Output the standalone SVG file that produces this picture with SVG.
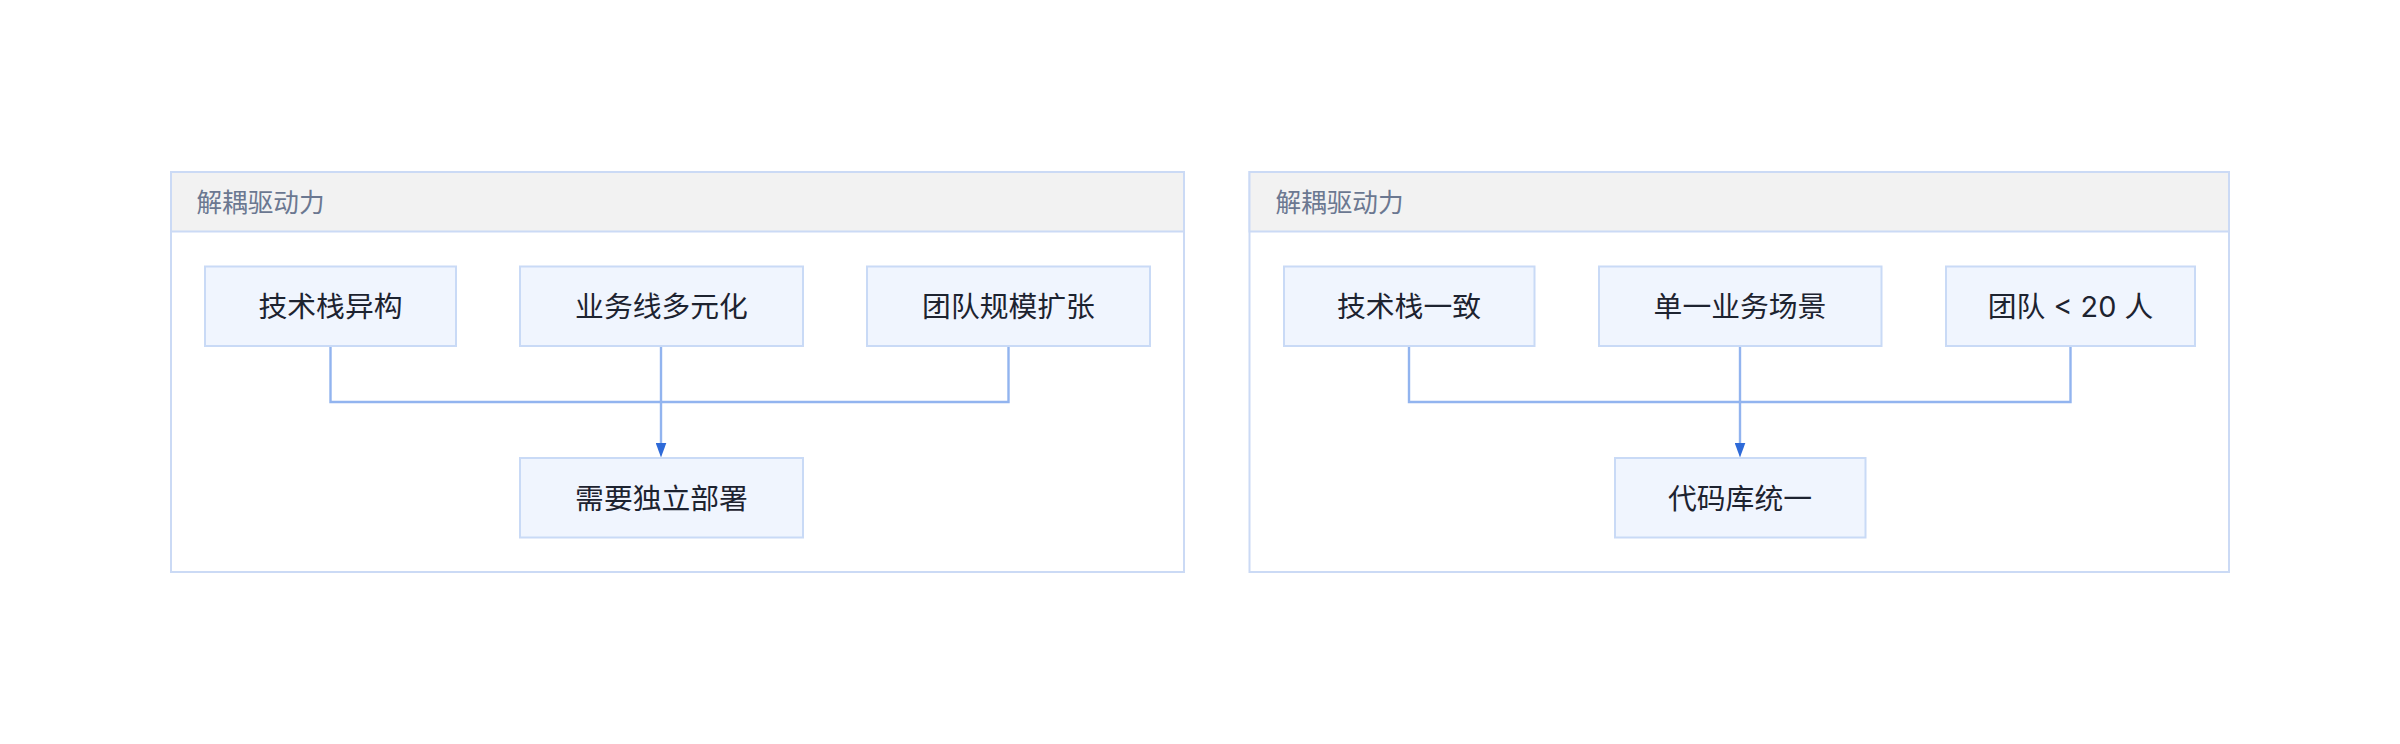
<svg xmlns="http://www.w3.org/2000/svg" width="2400" height="744" viewBox="0 0 2400 744">
<style>
.frame{fill:#ffffff;stroke:#cbdaf5;stroke-width:2}
.hdr{fill:#f2f2f2;stroke:#cbdaf5;stroke-width:2}
.title{font-family:Inter,"Noto Sans CJK SC",sans-serif;font-size:25.6px;fill:#6b7891;dominant-baseline:central}
.node rect{fill:#f0f5fe;stroke:#c9daf6;stroke-width:2}
.node text{font-family:Inter,"Noto Sans CJK SC",sans-serif;font-size:28.8px;fill:#1d2330;text-anchor:middle;dominant-baseline:central}
.edge{fill:none;stroke:#92b4ef;stroke-width:2.4}
</style>
<defs>
<marker id="arr" markerUnits="userSpaceOnUse" markerWidth="15" markerHeight="11" refX="1.5" refY="5.5" orient="auto" viewBox="0 0 15 11">
<path d="M0 0 L15 5.5 L0 11 Z" fill="#2e6ad8"/>
</marker>
</defs>
<rect width="2400" height="744" fill="#ffffff"/>
<g id="cluster-left">
<rect class="frame" x="171" y="172" width="1013" height="400"/>
<rect class="hdr" x="171" y="172" width="1013" height="59.5"/>
<text class="title" x="196.5" y="202">解耦驱动力</text>
</g>
<g id="cluster-right">
<rect class="frame" x="1249.5" y="172" width="979.5" height="400"/>
<rect class="hdr" x="1249.5" y="172" width="979.5" height="59.5"/>
<text class="title" x="1275.5" y="202">解耦驱动力</text>
</g>
<g id="connectors">
<path class="edge" d="M330.5 346 V402 H1008.5 V346"/>
<path class="edge" d="M661 346 V444" marker-end="url(#arr)"/>
<path class="edge" d="M1409 346 V402 H2070.5 V346"/>
<path class="edge" d="M1740 346 V444" marker-end="url(#arr)"/>
</g>
<g id="n1" class="node"><rect x="205" y="266.5" width="251" height="79.5"/><text x="330.5" y="306">技术栈异构</text></g>
<g id="n2" class="node"><rect x="520" y="266.5" width="283" height="79.5"/><text x="661.5" y="306">业务线多元化</text></g>
<g id="n3" class="node"><rect x="867" y="266.5" width="283" height="79.5"/><text x="1008.5" y="306">团队规模扩张</text></g>
<g id="n4" class="node"><rect x="520" y="458" width="283" height="79.5"/><text x="661.5" y="498">需要独立部署</text></g>
<g id="m1" class="node"><rect x="1284" y="266.5" width="250.5" height="79.5"/><text x="1409" y="306">技术栈一致</text></g>
<g id="m2" class="node"><rect x="1599" y="266.5" width="282.5" height="79.5"/><text x="1740" y="306">单一业务场景</text></g>
<g id="m3" class="node"><rect x="1946" y="266.5" width="249" height="79.5"/><text x="2070.5" y="306">团队 &lt; 20 人</text></g>
<g id="m4" class="node"><rect x="1615" y="458" width="250.5" height="79.5"/><text x="1740" y="498">代码库统一</text></g>
</svg>
